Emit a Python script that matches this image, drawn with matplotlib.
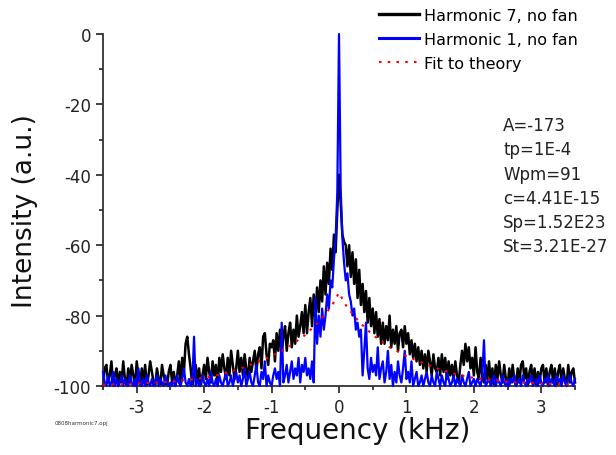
import numpy as np
import matplotlib
matplotlib.use('Agg')
import matplotlib.pyplot as plt
from matplotlib.ticker import MultipleLocator

plt.rcParams['font.family'] = 'DejaVu Sans'
plt.rcParams['axes.unicode_minus'] = False

# frequency grid (kHz), one sample every 0.025 kHz from -3.5 to 3.5
freq = np.linspace(-3.5, 3.5, 281)

# Harmonic 7, no fan (black), 20 samples per 0.5 kHz row
h7 = [-100, -95, -94, -99, -97, -93, -100, -97, -95, -100, -96, -99, -93, -98, -100, -95, -99, -94, -97, -100,
      -93, -97, -100, -95, -99, -94, -100, -97, -93, -96, -99, -100, -95, -98, -100, -94, -97, -99, -100, -96,
      -94, -99, -96, -100, -97, -93, -99, -92, -96, -88, -86, -91, -95, -100, -97, -94, -99, -95, -100, -97,
      -94, -98, -92, -96, -99, -93, -97, -94, -100, -92, -96, -91, -95, -98, -92, -97, -90, -94, -98, -95,
      -90, -96, -92, -97, -91, -95, -98, -92, -96, -93, -90, -96, -91, -89, -95, -86, -85, -91, -94, -88,
      -89, -87, -93, -85, -90, -84, -91, -86, -83, -90, -85, -82, -89, -84, -88, -80, -86, -83, -79, -85,
      -77, -85, -79, -75, -83, -74, -81, -72, -79, -70, -76, -66, -74, -65, -71, -61, -67, -57, -62, -50,
      -40,
      -48, -57, -59, -60, -66, -60, -69, -62, -71, -64, -75, -67, -77, -71, -79, -73, -82, -75, -83, -78,
      -85, -79, -86, -81, -88, -82, -88, -83, -87, -80, -89, -84, -88, -83, -90, -85, -84, -89, -83, -88,
      -85, -91, -87, -92, -88, -93, -89, -94, -90, -95, -91, -96, -90, -93, -97, -91, -95, -96, -92, -97,
      -91, -96, -92, -98, -93, -97, -94, -98, -93, -97, -99, -94, -90, -94, -88, -93, -89, -95, -92, -97,
      -89, -96, -98, -92, -97, -99, -94, -98, -93, -99, -95, -100, -94, -98, -93, -97, -99, -94, -98, -100,
      -95, -99, -94, -98, -100, -95, -99, -94, -93, -98, -95, -100, -96, -94, -99, -95, -100, -96, -99, -95,
      -94, -99, -95, -100, -96, -94, -99, -95, -100, -96, -94, -99, -95, -98, -100, -94, -99, -96, -95, -99]

# Harmonic 1, no fan (blue)
h1 = [-96, -99, -100, -97, -100, -99, -96, -100, -98, -100, -99, -97, -100, -98, -99, -100, -97, -99, -100, -98,
      -100, -95, -99, -100, -98, -100, -97, -99, -100, -98, -100, -99, -97, -100, -98, -99, -100, -97, -99, -100,
      -99, -100, -98, -100, -97, -99, -100, -98, -95, -99, -100, -98, -100, -99, -86, -100, -98, -100, -99, -97,
      -99, -100, -98, -100, -96, -99, -100, -98, -100, -97, -99, -100, -98, -96, -100, -99, -97, -100, -98, -96,
      -99, -97, -100, -98, -95, -100, -98, -96, -99, -100, -97, -94, -99, -100, -96, -98, -93, -100, -97, -99,
      -100, -97, -95, -98, -96, -100, -82, -99, -97, -94, -99, -96, -93, -98, -95, -97, -92, -99, -94, -96,
      -92, -97, -95, -98, -93, -99, -75, -88, -80, -86, -78, -84, -80, -74, -78, -70, -72, -64, -58, -45,
      0,
      -44, -58, -65, -70, -68, -74, -76, -80, -78, -84, -82, -86, -84, -97, -90, -82, -95, -98, -92, -96,
      -94, -97, -89, -98, -95, -93, -99, -96, -90, -98, -94, -100, -96, -99, -93, -97, -99, -95, -90, -98,
      -96, -99, -93, -100, -98, -96, -100, -99, -97, -100, -98, -96, -99, -100, -97, -99, -100, -96, -98, -100,
      -97, -99, -100, -96, -98, -100, -99, -97, -100, -98, -99, -100, -97, -99, -100, -98, -96, -100, -99, -98,
      -100, -98, -99, -100, -97, -87, -100, -99, -98, -100, -99, -97, -100, -98, -99, -100, -97, -99, -100, -98,
      -100, -98, -99, -97, -100, -99, -98, -100, -97, -99, -100, -98, -99, -97, -100, -99, -98, -100, -97, -99,
      -100, -98, -99, -97, -100, -98, -99, -100, -97, -99, -98, -100, -97, -99, -100, -98, -97, -99, -100, -98]

# Fit to theory (red dotted)
fit_f = [-3.5, -3.0, -2.5, -2.0, -1.75, -1.5, -1.25, -1.0, -0.75, -0.5,
         -0.3, -0.2, -0.1, 0.0, 0.1, 0.2, 0.3,
         0.5, 0.75, 1.0, 1.25, 1.5, 1.75, 2.0, 2.5, 3.0, 3.5]
fit_v = [-99.6, -99.3, -98.8, -97.7, -96.7, -95.3, -93.5, -91.5, -89.0, -85.5,
         -81.8, -79.5, -77.0, -73.5, -77.0, -79.5, -81.8,
         -85.5, -89.0, -91.5, -93.5, -95.3, -96.7, -97.7, -98.8, -99.3, -99.6]

params = "A=-173\ntp=1E-4\nWpm=91\nc=4.41E-15\nSp=1.52E23\nSt=3.21E-27"

fig = plt.figure(figsize=(6.16, 4.56), dpi=100)
ax = fig.add_axes([103/616, 1 - 387/456, 472/616, 352/456])

ax.plot(freq, h7, color='black', lw=1.8, zorder=2, clip_on=False,
        label='Harmonic 7, no fan')
ax.plot(freq, h1, color='#0000ff', lw=1.6, zorder=3, clip_on=False,
        label='Harmonic 1, no fan')
ax.plot(fit_f, fit_v, color='red', lw=1.5, ls=(0, (1.2, 3)), zorder=4,
        label='Fit to theory')

ax.set_xlim(-3.5, 3.5)
ax.set_ylim(-100, 0)
ax.xaxis.set_major_locator(MultipleLocator(1))
ax.xaxis.set_minor_locator(MultipleLocator(0.5))
ax.yaxis.set_major_locator(MultipleLocator(20))
ax.yaxis.set_minor_locator(MultipleLocator(10))

for s in ['top', 'right']:
    ax.spines[s].set_visible(False)
for s in ['left', 'bottom']:
    ax.spines[s].set_color('#333333')
    ax.spines[s].set_linewidth(1.3)
ax.tick_params(which='major', length=5, width=1.3, color='#333333',
               labelsize=12, labelcolor='#222222')
ax.tick_params(which='minor', length=3, width=1.3, color='#333333')

ax.set_xlabel('Frequency (kHz)', fontsize=20, color='#111111')
ax.set_ylabel('Intensity (a.u.)', fontsize=19, color='#111111')
ax.xaxis.set_label_coords(0.54, -0.085)
ax.yaxis.set_label_coords(-0.137, 0.5)

leg = fig.legend(loc='upper left', bbox_to_anchor=(379/616, 1 - 9/456),
                 frameon=False, fontsize=11.5, handlelength=2.5,
                 handletextpad=0.3, labelspacing=0.55, borderpad=0,
                 borderaxespad=0)
leg.get_lines()[0].set_linewidth(2.4)
leg.get_lines()[1].set_linewidth(2.2)

fig.text(503/616, 1 - 117/456, params, fontsize=12, color='#222222',
         va='top', ha='left', linespacing=1.45)

fig.text(55/616, 1 - 424/456, '0808harmonic7.opj', fontsize=4,
         color='#333333', va='center')

fig.savefig('out.png', dpi=100)
